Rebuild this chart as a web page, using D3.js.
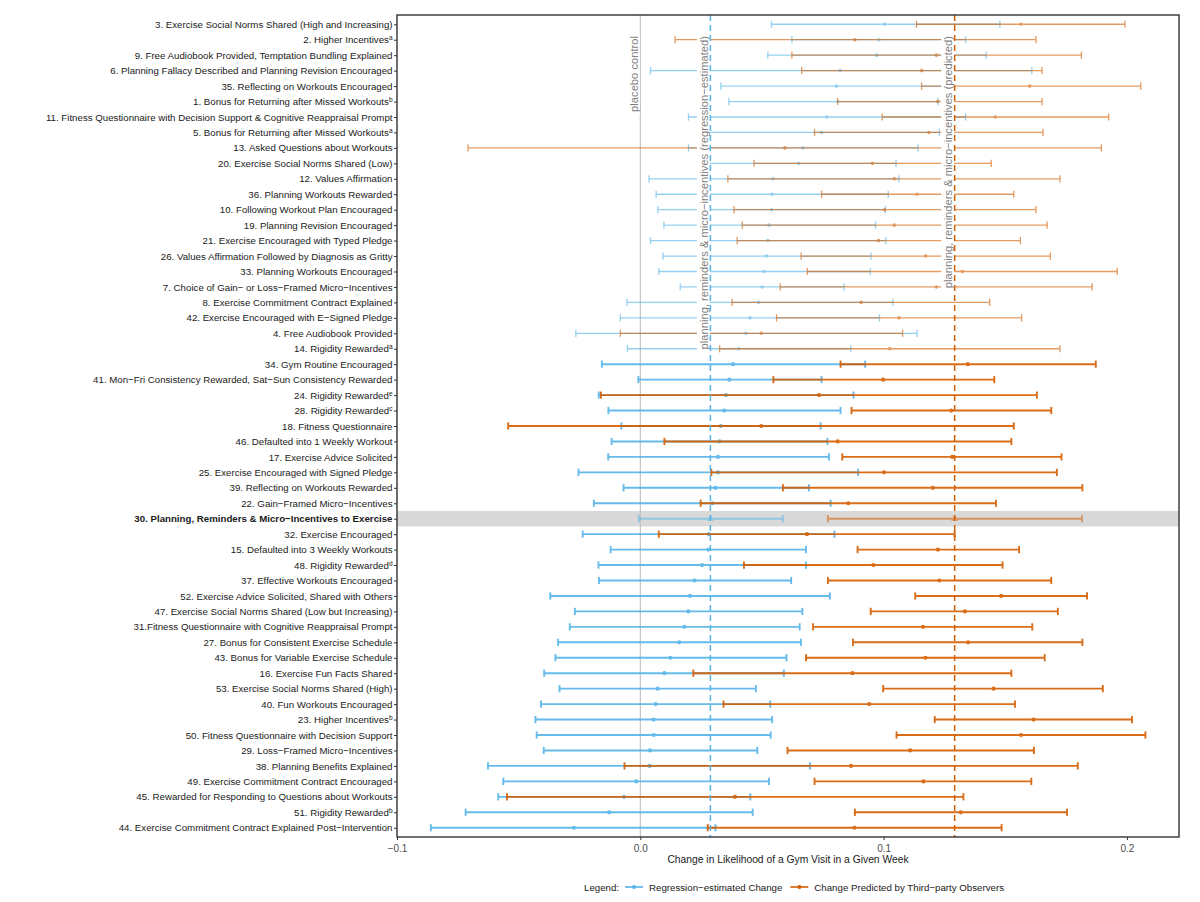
<!DOCTYPE html>
<html><head><meta charset="utf-8">
<script src="https://cdn.jsdelivr.net/npm/d3@7"></script>
<style>
body{margin:0;background:#fff}
svg{display:block}
text{font-family:"Liberation Sans",Arial,Helvetica,sans-serif}
</style>
</head><body>
<svg id="c" width="1200" height="902"></svg>
<script>
// ---------- data ----------
const labels = [
"3. Exercise Social Norms Shared (High and Increasing)",
"2. Higher Incentives^a",
"9. Free Audiobook Provided, Temptation Bundling Explained",
"6. Planning Fallacy Described and Planning Revision Encouraged",
"35. Reflecting on Workouts Encouraged",
"1. Bonus for Returning after Missed Workouts^b",
"11. Fitness Questionnaire with Decision Support & Cognitive Reappraisal Prompt",
"5. Bonus for Returning after Missed Workouts^a",
"13. Asked Questions about Workouts",
"20. Exercise Social Norms Shared (Low)",
"12. Values Affirmation",
"36. Planning Workouts Rewarded",
"10. Following Workout Plan Encouraged",
"19. Planning Revision Encouraged",
"21. Exercise Encouraged with Typed Pledge",
"26. Values Affirmation Followed by Diagnosis as Gritty",
"33. Planning Workouts Encouraged",
"7. Choice of Gain\u2212 or Loss\u2212Framed Micro\u2212Incentives",
"8. Exercise Commitment Contract Explained",
"42. Exercise Encouraged with E\u2212Signed Pledge",
"4. Free Audiobook Provided",
"14. Rigidity Rewarded^a",
"34. Gym Routine Encouraged",
"41. Mon\u2212Fri Consistency Rewarded, Sat\u2212Sun Consistency Rewarded",
"24. Rigidity Rewarded^e",
"28. Rigidity Rewarded^c",
"18. Fitness Questionnaire",
"46. Defaulted into 1 Weekly Workout",
"17. Exercise Advice Solicited",
"25. Exercise Encouraged with Signed Pledge",
"39. Reflecting on Workouts Rewarded",
"22. Gain\u2212Framed Micro\u2212Incentives",
"30. Planning, Reminders & Micro\u2212Incentives to Exercise",
"32. Exercise Encouraged",
"15. Defaulted into 3 Weekly Workouts",
"48. Rigidity Rewarded^d",
"37. Effective Workouts Encouraged",
"52. Exercise Advice Solicited, Shared with Others",
"47. Exercise Social Norms Shared (Low but Increasing)",
"31.Fitness Questionnaire with Cognitive Reappraisal Prompt",
"27. Bonus for Consistent Exercise Schedule",
"43. Bonus for Variable Exercise Schedule",
"16. Exercise Fun Facts Shared",
"53. Exercise Social Norms Shared (High)",
"40. Fun Workouts Encouraged",
"23. Higher Incentives^b",
"50. Fitness Questionnaire with Decision Support",
"29. Loss\u2212Framed Micro\u2212Incentives",
"38. Planning Benefits Explained",
"49. Exercise Commitment Contract Encouraged",
"45. Rewarded for Responding to Questions about Workouts",
"51. Rigidity Rewarded^b",
"44. Exercise Commitment Contract Explained Post\u2212Intervention"
];
const highlightLabel = "30. Planning, Reminders & Micro\u2212Incentives to Exercise";

const blueEst = [0.1004,0.0981,0.0971,0.0821,0.0806,0.0811,0.0766,0.0745,0.0668,0.0651,
 0.0545,0.0541,0.0539,0.0529,0.0524,0.0518,0.0510,0.0501,0.0486,0.0451,
 0.0434,0.0404,0.0381,0.0366,0.0352,0.0345,0.0331,0.0326,0.0319,0.0319,
 0.0309,0.0296,0.0288,0.0282,0.0279,0.0254,0.0223,0.0204,0.0197,0.0181,
 0.0160,0.0124,0.0099,0.0071,0.0063,0.0055,0.0055,0.0040,0.0038,-0.0017,
 -0.0067,-0.0128,-0.0273];
const blueLo = [0.0539,0.0623,0.0524,0.0042,0.0331,0.0364,0.0198,0.0261,0.0198,0.0251,
 0.0036,0.0065,0.0072,0.0097,0.0042,0.0093,0.0076,0.0164,-0.0055,-0.0082,
 -0.0265,-0.0053,-0.0158,-0.0008,-0.0171,-0.0131,-0.0078,-0.0118,-0.0132,-0.0254,
 -0.0069,-0.0191,-0.0006,-0.0237,-0.0122,-0.0172,-0.0170,-0.0370,-0.0269,-0.0290,
 -0.0338,-0.0349,-0.0395,-0.0332,-0.0408,-0.0431,-0.0426,-0.0397,-0.0626,-0.0563,
 -0.0584,-0.0718,-0.0861];
const blueHi = [0.1478,0.1337,0.1421,0.1609,0.1282,0.1223,0.1337,0.1229,0.1141,0.1051,
 0.1063,0.1019,0.1007,0.0967,0.1009,0.0948,0.0945,0.0838,0.1038,0.0983,
 0.1137,0.0865,0.0924,0.0745,0.0876,0.0823,0.0741,0.0769,0.0775,0.0895,
 0.0693,0.0782,0.0586,0.0798,0.0681,0.0681,0.0620,0.0779,0.0666,0.0655,
 0.0660,0.0601,0.0590,0.0475,0.0534,0.0542,0.0536,0.0481,0.0697,0.0529,
 0.0452,0.0462,0.0309];
const orangeEst = [0.1565,0.0882,0.1217,0.1156,0.1600,0.1223,0.1459,0.1186,0.0594,0.0954,
 0.1044,0.1137,0.1004,0.1044,0.0979,0.1173,0.1324,0.1217,0.0908,0.1063,
 0.0497,0.1025,0.1346,0.0998,0.0735,0.1278,0.0497,0.0811,0.1282,0.1002,
 0.1202,0.0855,0.1292,0.0685,0.1223,0.0958,0.1229,0.1483,0.1334,0.1162,
 0.1347,0.1172,0.0872,0.1452,0.0941,0.1616,0.1565,0.1109,0.0866,0.1164,
 0.0389,0.1317,0.0880];
const orangeLo = [0.1135,0.0143,0.0623,0.0663,0.1156,0.0811,0.0994,0.0716,-0.0708,0.0467,
 0.0360,0.0745,0.0385,0.0419,0.0398,0.0661,0.0686,0.0575,0.0377,0.0560,
 -0.0082,0.0326,0.0823,0.0547,-0.0162,0.0868,-0.0543,0.0099,0.0830,0.0292,
 0.0586,0.0248,0.0771,0.0076,0.0893,0.0426,0.0771,0.1130,0.0947,0.0710,
 0.0874,0.0681,0.0218,0.0998,0.0342,0.1210,0.1053,0.0605,-0.0065,0.0716,
 -0.0548,0.0882,0.0277];
const orangeHi = [0.1992,0.1626,0.1813,0.1651,0.2057,0.1651,0.1925,0.1655,0.1895,0.1442,
 0.1725,0.1535,0.1626,0.1672,0.1562,0.1685,0.1960,0.1857,0.1436,0.1567,
 0.1078,0.1725,0.1872,0.1455,0.1630,0.1689,0.1535,0.1525,0.1731,0.1712,
 0.1817,0.1462,0.1815,0.1292,0.1557,0.1489,0.1689,0.1836,0.1716,0.1611,
 0.1817,0.1662,0.1525,0.1901,0.1540,0.2021,0.2076,0.1618,0.1798,0.1607,
 0.1328,0.1754,0.1485];
const xTicks = [-0.1, 0.0, 0.1, 0.2];
const xDomain = [-0.1, 0.2214];
const xTitle = "Change in Likelihood of a Gym Visit in a Given Week";
const legendTitle = "Legend:";
const seriesNames = ["Regression\u2212estimated Change", "Change Predicted by Third\u2212party Observers"];
const annPlacebo = "placebo control";
const annBlue = "planning, reminders & micro\u2212incentives (regression\u2212estimated)";
const annOrange = "planning, reminders & micro\u2212incentives (predicted)";

// ---------- drawing ----------
const BLUE = "#56B4E9", ORANGE = "#D55E00";
const L = 397, R = 1179, T = 15, B = 837;
const svg = d3.select("#c");
svg.append("rect").attr("width",1200).attr("height",902).attr("fill","#fff");

const x = d3.scaleLinear().domain(xDomain).range([L, R]);
const y = d3.scalePoint().domain(d3.range(labels.length)).range([T, B]).padding(0.6);
const step = y.step();
const hi = labels.indexOf(highlightLabel);

const rows = labels.map((lab, i) => ({
  i, lab,
  s: [
    {c: BLUE, lo: blueLo[i], est: blueEst[i], hi: blueHi[i]},
    {c: ORANGE, lo: orangeLo[i], est: orangeEst[i], hi: orangeHi[i]}
  ]
}));

// highlight band
svg.append("rect").attr("x", L).attr("width", R - L)
  .attr("y", y(hi) - step/2).attr("height", step).attr("fill", "#d9d9d9");

// placebo line
svg.append("line").attr("x1", x(0)).attr("x2", x(0)).attr("y1", T).attr("y2", B)
  .attr("stroke", "#bdbdbd").attr("stroke-width", 1.1);

const marks = svg.append("g");
const capH = 3.6;
rows.forEach(r => {
  const top = r.i < 22;
  const op = r.i === hi ? 0.55 : (top ? 0.62 : 0.9);
  const sw = top ? 1.3 : 1.9;
  r.s.forEach(s => {
    const g = marks.append("g").attr("opacity", op);
    const yy = y(r.i);
    g.append("line").attr("x1", x(s.lo)).attr("x2", x(s.hi)).attr("y1", yy).attr("y2", yy)
      .attr("stroke", s.c).attr("stroke-width", sw);
    [s.lo, s.hi].forEach(v => g.append("line").attr("x1", x(v)).attr("x2", x(v))
      .attr("y1", yy - capH).attr("y2", yy + capH).attr("stroke", s.c).attr("stroke-width", sw));
    if (r.i === hi) {
      g.append("path").attr("d", d3.symbol(d3.symbolTriangle, 22)())
        .attr("transform", `translate(${x(s.est)},${yy})`).attr("fill", s.c);
    } else {
      g.append("circle").attr("cx", x(s.est)).attr("cy", yy).attr("r", top ? 1.8 : 2.1).attr("fill", s.c);
    }
  });
});

// annotations with white boxes
const refBlue = blueEst[hi], refOrange = orangeEst[hi];
function annotate(txt, xv) {
  const lx = x(xv);
  const g = svg.append("g");
  const box = g.append("rect").attr("fill", "#fff");
  const t = g.append("text").text(txt).attr("font-size", 11.2).attr("fill", "#7f7f7f")
    .attr("text-anchor", "end")
    .attr("transform", `translate(${lx - 2.5},36) rotate(-90)`);
  const len = t.node().getComputedTextLength();
  box.attr("x", lx - 13.5).attr("width", 13).attr("y", 33).attr("height", len + 6);
}
annotate(annPlacebo, 0);
annotate(annBlue, refBlue);
annotate(annOrange, refOrange);

// dashed reference lines
[[refBlue, BLUE], [refOrange, ORANGE]].forEach(([v, c]) => {
  svg.append("line").attr("x1", x(v)).attr("x2", x(v)).attr("y1", T).attr("y2", B)
    .attr("stroke", c).attr("stroke-width", 1.5).attr("stroke-dasharray", "6,4");
});

// panel border
svg.append("rect").attr("x", L).attr("y", T).attr("width", R - L).attr("height", B - T)
  .attr("fill", "none").attr("stroke", "#333").attr("stroke-width", 1.4);

// x axis
const xa = svg.append("g").attr("transform", `translate(0,${B})`)
  .call(d3.axisBottom(x).tickValues(xTicks).tickFormat(d3.format(".1f")).tickSize(3).tickSizeOuter(0));
xa.select(".domain").remove();
xa.selectAll(".tick line").attr("stroke", "#333");
xa.selectAll(".tick text").attr("font-size", 10).attr("fill", "#4d4d4d")
  .attr("font-family", '"Liberation Sans",Arial,sans-serif').attr("dy", "0.9em")
  .text(d => d3.format(".1f")(d).replace("-", "\u2212"));

// y axis
const ya = svg.append("g").attr("transform", `translate(${L},0)`)
  .call(d3.axisLeft(y).tickSize(3).tickSizeOuter(0).tickFormat(i => labels[i].split("^")[0]));
ya.select(".domain").remove();
ya.selectAll(".tick line").attr("stroke", "#333");
ya.selectAll(".tick text").attr("font-size", 9.7).attr("fill", "#1a1a1a")
  .attr("font-family", '"Liberation Sans",Arial,sans-serif').attr("x", -4.5)
  .attr("font-weight", i => i === hi ? "bold" : null)
  .each(function(i) {
    const parts = labels[i].split("^");
    if (parts.length > 1) {
      d3.select(this).append("tspan").attr("font-size", 6.5).attr("dy", "-0.45em").text(parts[1]);
    }
  });

// x title
svg.append("text").attr("x", (L + R) / 2).attr("y", 863).attr("text-anchor", "middle")
  .attr("font-size", 10.3).attr("fill", "#1a1a1a").text(xTitle);

// legend
const lg = svg.append("g").attr("transform", "translate(0,887)");
let cx = 0;
const lt = lg.append("text").attr("x", cx).attr("y", 3.5).attr("font-size", 9.7).attr("fill", "#1a1a1a").text(legendTitle);
cx += lt.node().getComputedTextLength() + 6;
[BLUE, ORANGE].forEach((c, k) => {
  lg.append("line").attr("x1", cx).attr("x2", cx + 18).attr("stroke", c).attr("stroke-width", 1.6);
  lg.append("circle").attr("cx", cx + 9).attr("r", 2.1).attr("fill", c);
  cx += 24;
  const tt = lg.append("text").attr("x", cx).attr("y", 3.5).attr("font-size", 9.7).attr("fill", "#1a1a1a").text(seriesNames[k]);
  cx += tt.node().getComputedTextLength() + 8;
});
cx -= 8;
lg.attr("transform", `translate(${794 - cx / 2},887)`);
</script>
</body></html>
